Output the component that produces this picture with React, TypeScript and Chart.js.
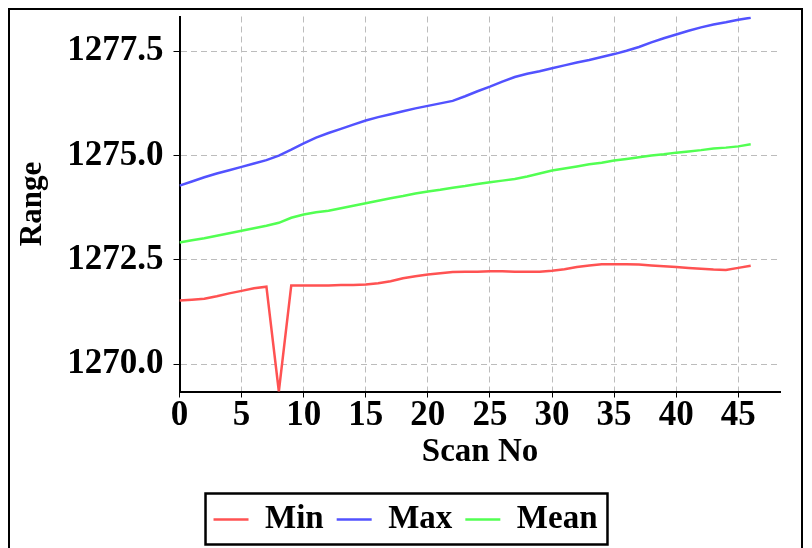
import React, { useEffect, useRef } from "react";
import { Chart, registerables } from "chart.js";

Chart.register(...registerables);

const scanNo: number[] = Array.from({ length: 47 }, (_, i) => i);

const minRange: number[] = [
  1271.53, 1271.55, 1271.57, 1271.63, 1271.7, 1271.76, 1271.82, 1271.86, 1269.35, 1271.89,
  1271.89, 1271.89, 1271.89, 1271.9, 1271.9, 1271.91, 1271.94, 1271.99, 1272.06, 1272.11,
  1272.15, 1272.18, 1272.21, 1272.22, 1272.22, 1272.23, 1272.23, 1272.22, 1272.22, 1272.22,
  1272.24, 1272.28, 1272.33, 1272.37, 1272.4, 1272.4, 1272.4, 1272.39, 1272.37, 1272.35,
  1272.33, 1272.31, 1272.29, 1272.27, 1272.26, 1272.31, 1272.36,
];

const maxRange: number[] = [
  1274.28, 1274.38, 1274.48, 1274.57, 1274.65, 1274.73, 1274.81, 1274.89, 1275.0, 1275.14,
  1275.29, 1275.43, 1275.54, 1275.64, 1275.74, 1275.84, 1275.92, 1275.99, 1276.06, 1276.13,
  1276.19, 1276.25, 1276.31, 1276.42, 1276.54, 1276.65, 1276.77, 1276.88, 1276.96, 1277.02,
  1277.09, 1277.16, 1277.23, 1277.29, 1277.36, 1277.43, 1277.51, 1277.6, 1277.71, 1277.81,
  1277.9, 1277.99, 1278.07, 1278.14, 1278.19, 1278.25, 1278.3,
];

const meanRange: number[] = [
  1272.92, 1272.97, 1273.02, 1273.08, 1273.14, 1273.2, 1273.26, 1273.32, 1273.39, 1273.51,
  1273.59, 1273.64, 1273.68, 1273.74, 1273.8, 1273.86, 1273.92, 1273.98, 1274.03, 1274.09,
  1274.14, 1274.18, 1274.23, 1274.27, 1274.32, 1274.36, 1274.4, 1274.44, 1274.5, 1274.57,
  1274.64, 1274.69, 1274.74, 1274.79, 1274.83, 1274.88, 1274.92, 1274.96, 1275.0, 1275.03,
  1275.07, 1275.1, 1275.13, 1275.17, 1275.19, 1275.22, 1275.27,
];

const seriesNames: string[] = ["Min", "Max", "Mean"];
const seriesColors: string[] = ["rgb(255,82,82)", "rgb(82,82,255)", "rgb(82,255,82)"];
const xTitle = "Scan No";
const yTitle = "Range";

const FONT = "'Liberation Serif', 'Times New Roman', serif";

const legendBoxPlugin = {
  id: "legendBox",
  afterDraw(chart: any) {
    const lg = chart.legend;
    if (!lg || !lg.legendHitBoxes || !lg.legendHitBoxes.length) return;
    const boxes = lg.legendHitBoxes;
    let l = Infinity, r = -Infinity, t = Infinity, b = -Infinity;
    for (const h of boxes) {
      l = Math.min(l, h.left);
      r = Math.max(r, h.left + h.width);
      t = Math.min(t, h.top);
      b = Math.max(b, h.top + h.height);
    }
    const ctx = chart.ctx;
    ctx.save();
    ctx.strokeStyle = "#000";
    ctx.lineWidth = 2.5;
    ctx.strokeRect(l - 8, t - 9.5, r - l + 18, b - t + 18);
    ctx.restore();
  },
};

export default function App() {
  const ref = useRef<HTMLCanvasElement | null>(null);

  useEffect(() => {
    if (!ref.current) return;
    const datasets = [minRange, maxRange, meanRange].map((vals, i) => ({
      label: seriesNames[i],
      data: vals.map((v, j) => ({ x: scanNo[j], y: v })),
      borderColor: seriesColors[i],
      backgroundColor: seriesColors[i],
      borderWidth: 2.5,
      pointRadius: 0,
      tension: 0,
    }));
    const tickFont = { family: FONT, size: 35, weight: "bold" as const, lineHeight: 1 };
    const xTitleFont = { family: FONT, size: 33, weight: "bold" as const, lineHeight: 1 };
    const yTitleFont = { family: FONT, size: 31, weight: "bold" as const, lineHeight: 1 };
    const legendFont = { family: FONT, size: 33, weight: "bold" as const };
    const chart = new Chart(ref.current, {
      type: "line",
      data: { datasets },
      plugins: [legendBoxPlugin],
      options: {
        animation: false,
        responsive: true,
        maintainAspectRatio: false,
        layout: { padding: { top: 6.5, right: 0, left: 0, bottom: 24 } },
        plugins: {
          tooltip: { enabled: false },
          legend: {
            position: "bottom",
            labels: {
              font: legendFont,
              color: "#000",
              usePointStyle: true,
              pointStyle: "line",
              pointStyleWidth: 35,
              padding: 13,
            },
          },
        },
        scales: {
          x: {
            type: "linear",
            min: 0,
            max: 48.4,
            afterFit: (scale: any) => {
              scale.paddingRight = 20.5;
            },
            ticks: {
              stepSize: 5,
              includeBounds: false,
              font: tickFont,
              color: "#000",
              padding: 0.5,
              maxRotation: 0,
            },
            grid: { color: "#bcbcbc", tickColor: "#000", tickLength: 6, lineWidth: 1 },
            border: { color: "#000", width: 2, dash: [6, 4] },
            title: { display: true, text: xTitle, font: xTitleFont, color: "#000", padding: { top: 2.5, bottom: 21 } },
          },
          y: {
            type: "linear",
            min: 1269.35,
            max: 1278.33,
            afterFit: (scale: any) => {
              scale.paddingTop = 0;
              scale.paddingBottom = 0;
            },
            ticks: {
              stepSize: 2.5,
              includeBounds: false,
              font: tickFont,
              color: "#000",
              padding: 10,
              callback: (v: any) => Number(v).toFixed(1),
            },
            grid: { color: "#bcbcbc", tickColor: "#000", tickLength: 6, lineWidth: 1 },
            border: { color: "#000", width: 2, dash: [6, 4] },
            title: { display: true, text: yTitle, font: yTitleFont, color: "#000", padding: { top: 7, bottom: 9.25 } },
          },
        },
      },
    });
    return () => chart.destroy();
  }, []);

  return (
    <div
      style={{
        width: 791,
        height: 560,
        border: "2.5px solid #000",
        boxSizing: "content-box",
      }}
    >
      <div style={{ position: "relative", width: 791, height: 560 }}>
        <canvas ref={ref} />
      </div>
    </div>
  );
}
